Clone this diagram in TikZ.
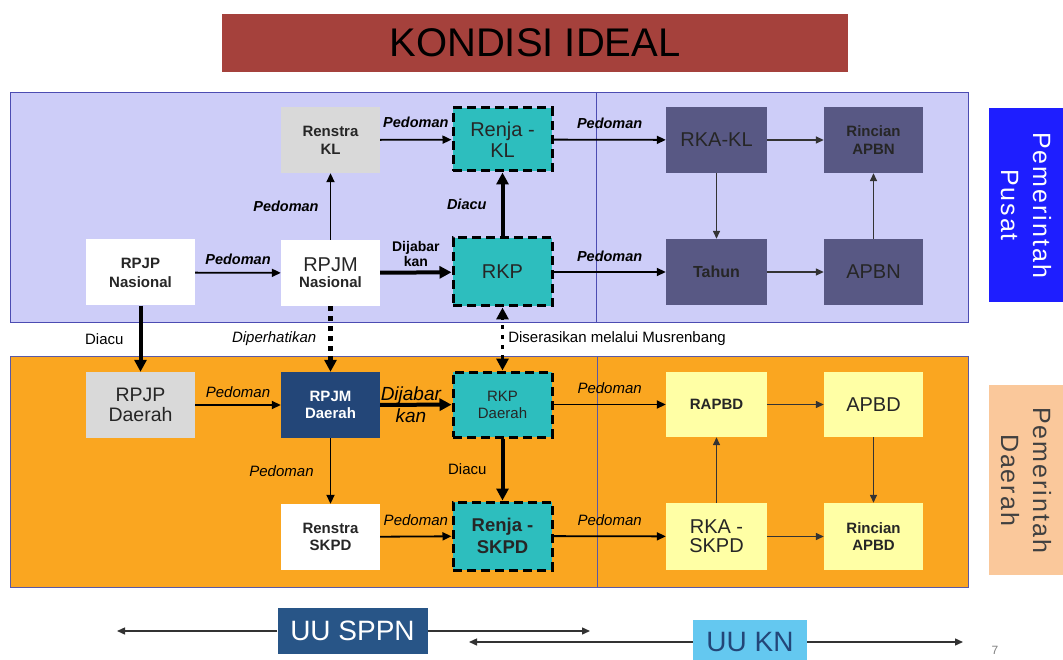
\documentclass[tikz,border=0pt]{standalone}
\usepackage{fontspec}
\setmainfont{Liberation Sans}
\newfontfamily\widesans[LetterSpace=8]{Liberation Sans}
\usepackage{tikz}
\usepackage{xcolor}
\usetikzlibrary{arrows.meta}

\definecolor{judulred}{RGB}{165,65,60}
\definecolor{pusatbg}{RGB}{205,205,248}
\definecolor{daerahbg}{RGB}{250,166,32}
\definecolor{slate}{RGB}{88,88,132}
\definecolor{tosca}{RGB}{45,190,190}
\definecolor{navy}{RGB}{35,70,120}
\definecolor{kuning}{RGB}{255,255,165}
\definecolor{abu}{RGB}{217,217,217}
\definecolor{birupusat}{RGB}{30,30,255}
\definecolor{peach}{RGB}{250,200,155}
\definecolor{sppnblue}{RGB}{40,85,135}
\definecolor{knblue}{RGB}{100,200,240}
\newcommand{\fnt}[2]{\fontsize{#1}{#2}\selectfont}

\begin{document}
\begin{tikzpicture}[x=1pt, y=-1pt,
  box/.style={minimum width=99pt, minimum height=66pt, inner sep=0pt, align=center, text=black!85},
  plan/.style={box, fill=tosca, draw=black, line width=3pt, dash pattern=on 9pt off 5pt},
  arr/.style={line width=1.8pt, -{Triangle[length=9pt,width=8pt]}},
  arrkecil/.style={line width=1.4pt, black!80, -{Triangle[length=8pt,width=7pt]}},
  thk/.style={line width=4pt, -{Triangle[length=12pt,width=12pt]}},
  titik/.style={line width=4.5pt, dash pattern=on 4.5pt off 5.5pt},
  lbl/.style={font=\fnt{14.5}{16}\bfseries\itshape, inner sep=2pt},
  lbli/.style={font=\fnt{15}{17}\itshape, inner sep=2pt},
  lblr/.style={font=\fnt{15}{17}, inner sep=2pt}]
\useasboundingbox (0,0) rectangle (1063,660);

% judul
\node[fill=judulred, minimum width=626pt, minimum height=58pt, font=\fnt{40}{44}] (judul) at (535,43) {KONDISI IDEAL};

% panel pusat dan daerah
\draw[draw=blue!40!gray, fill=pusatbg] (10,92) rectangle (968,322);
\draw[blue!40!gray] (596,92) -- (596,322);
\draw[draw=blue!30!gray, fill=daerahbg] (10,356) rectangle (968,587);
\draw[blue!30!gray] (597,356) -- (597,587);

% pemerintah pusat
\node[box, fill=white, minimum width=109pt, font=\fnt{15}{19}\bfseries] (rpjpnas) at (140.5,272.5) {RPJP\\Nasional};
\node[box, fill=white] (rpjmnas) at (330.5,273) {\fnt{20}{20}RPJM\\[4pt]\fnt{15}{17}\bfseries Nasional};
\node[box, fill=abu, font=\fnt{15}{18}\bfseries] (renstrakl) at (330.5,140) {Renstra\\KL};
\node[plan, minimum height=63pt, font=\fnt{20}{21}] (renjakl) at (502.5,139.5) {Renja -\\KL};
\node[plan, minimum height=68pt, font=\fnt{20}{21}] (rkp) at (502.5,272) {RKP};
\node[box, fill=slate, minimum width=101pt, font=\fnt{20}{21}] (rkakl) at (716.5,140) {RKA-KL};
\node[box, fill=slate, font=\fnt{15}{18}\bfseries] (rincianapbn) at (873.5,140) {Rincian\\APBN};
\node[box, fill=slate, minimum width=101pt, font=\fnt{16}{18}\bfseries] (tahun) at (716.5,272) {Tahun};
\node[box, fill=slate, font=\fnt{20}{21}] (apbn) at (873.5,272) {APBN};

% pemerintah daerah
\node[box, fill=abu, minimum width=109pt, font=\fnt{19.5}{20}] (rpjpdae) at (140.5,405) {RPJP\\Daerah};
\node[box, fill=navy, text=white, font=\fnt{15}{17}\bfseries] (rpjmdae) at (330.5,405) {RPJM\\Daerah};
\node[box, fill=white, font=\fnt{15}{17}\bfseries] (renstraskpd) at (330.5,537) {Renstra\\SKPD};
\node[plan, minimum height=65pt, font=\fnt{15}{17}] (rkpdae) at (502.5,404.5) {RKP\\Daerah};
\node[plan, minimum height=68pt, font=\fnt{18.5}{22}\bfseries] (renjaskpd) at (502.5,536) {Renja -\\SKPD};
\node[box, fill=kuning, minimum width=101pt, minimum height=65pt, font=\fnt{15}{17}\bfseries] (rapbd) at (716.5,404.5) {RAPBD};
\node[box, fill=kuning, minimum height=65pt, font=\fnt{20}{21}] (apbd) at (873.5,404.5) {APBD};
\node[box, fill=kuning, minimum width=101pt, minimum height=67pt, font=\fnt{20}{19}] (rkaskpd) at (716.5,536.5) {RKA -\\SKPD};
\node[box, fill=kuning, minimum height=67pt, font=\fnt{15}{17}\bfseries] (rincianapbd) at (873.5,536.5) {Rincian\\APBD};

% label samping
\node[rotate=-90, fill=birupusat, text=white, minimum width=194pt, minimum height=74pt, align=center, font=\widesans\fnt{25}{32}] (pusat) at (1026,205) {Pemerintah\\Pusat};
\node[rotate=-90, fill=peach, text=black!75, minimum width=190pt, minimum height=74pt, align=center, font=\widesans\fnt{25}{32}] (daerah) at (1026,480) {Pemerintah\\Daerah};

% alur pusat
\draw[arr] (rpjpnas) -- node[lbl, above=5pt] {Pedoman} (rpjmnas);
\draw[arr] (rpjmnas) -- node[lbl, left=9pt] {Pedoman} (renstrakl);
\draw[arr] (renstrakl) -- node[lbl, above=9pt] {Pedoman} (renjakl);
\draw[thk] (rpjmnas) -- node[above=1pt, align=center, font=\fnt{14}{15}\bfseries] {Dijabar\\kan} (rkp);
\draw[thk] (rkp) -- node[lbl, left=12pt] {Diacu} (renjakl);
\draw[arr] (renjakl) -- node[lbl, above=8pt] {Pedoman} (rkakl);
\draw[arr] (rkp) -- node[lbl, above=7pt] {Pedoman} (tahun);
\draw[arrkecil] (rkakl) -- (rincianapbn);
\draw[arrkecil] (rkakl) -- (tahun);
\draw[arrkecil] (tahun) -- (apbn);
\draw[arrkecil] (apbn) -- (rincianapbn);

% pusat ke daerah
\draw[thk] (rpjpnas) -- node[lblr, left=13pt] {Diacu} (rpjpdae);
\draw[titik, -{Triangle[length=12pt,width=12pt]}] (rpjmnas) -- node[lbli, left=10pt] {Diperhatikan} (rpjmdae);
\draw[titik, line width=3.5pt, {Triangle[length=12pt,width=12pt]}-{Triangle[length=12pt,width=12pt]}] (rkpdae) -- node[lblr, right=2pt] {Diserasikan melalui Musrenbang} (rkp);

% alur daerah
\draw[arr] (rpjpdae) -- node[lbli, above=4pt] {Pedoman} (rpjmdae);
\draw[thk] (rpjmdae) -- node[xshift=-5pt, align=center, font=\fnt{19}{22}\itshape] {Dijabar\\kan} (rkpdae);
\draw[arr] (rpjmdae) -- node[lbli, left=14pt] {Pedoman} (renstraskpd);
\draw[thk] (rkpdae) -- node[lblr, left=12pt] {Diacu} (renjaskpd);
\draw[arr] (renstraskpd) -- node[lbli, above=8pt] {Pedoman} (renjaskpd);
\draw[arr] (rkpdae) -- node[lbli, above=8pt] {Pedoman} (rapbd);
\draw[arr] (renjaskpd) -- node[lbli, above=8pt] {Pedoman} (rkaskpd);
\draw[arrkecil] (rkaskpd) -- (rapbd);
\draw[arrkecil] (rapbd) -- (apbd);
\draw[arrkecil] (apbd) -- (rincianapbd);
\draw[arrkecil] (rkaskpd) -- (rincianapbd);

% undang-undang
\coordinate (sppnkiri) at (117,631);
\coordinate (sppnkanan) at (590,631);
\coordinate (knkiri) at (469,642);
\coordinate (knkanan) at (963,642);
\node[fill=sppnblue, text=white, minimum width=150pt, minimum height=46pt, font=\fnt{28}{30}] (sppn) at (352.5,631) {UU SPPN};
\node[fill=knblue, text=navy, minimum width=114pt, minimum height=44pt, font=\fnt{28}{30}] (kn) at (750,642) {UU KN};
\draw[arrkecil] (sppn) -- (sppnkiri);
\draw[arrkecil] (sppn) -- (sppnkanan);
\draw[arrkecil] (kn) -- (knkiri);
\draw[arrkecil] (kn) -- (knkanan);
\node[text=gray, font=\fnt{12}{14}] (hal) at (995,650) {7};
\end{tikzpicture}
\end{document}
